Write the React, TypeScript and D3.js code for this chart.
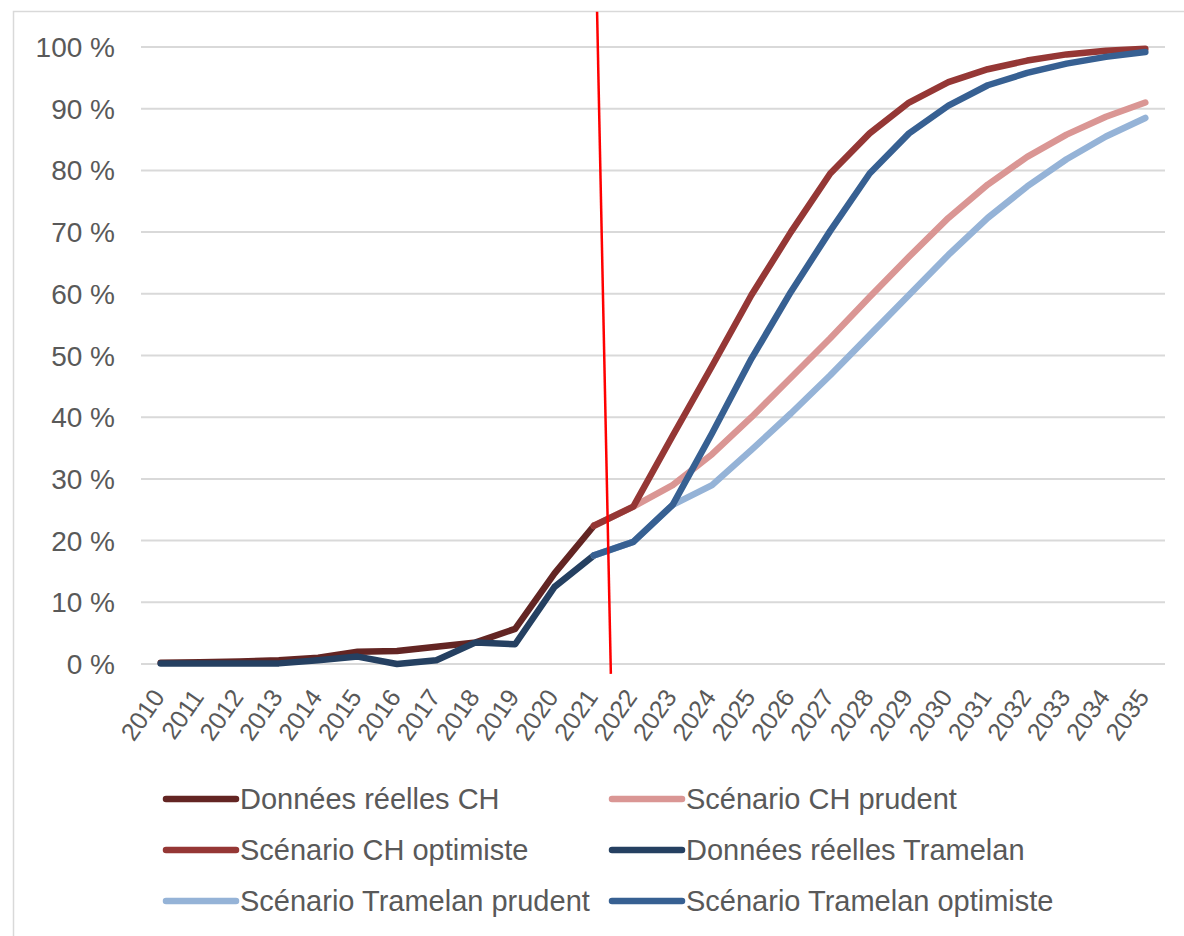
import React from "react";
import * as d3 from "d3";

const years = d3.range(2010, 2036);
const yTicks = [0, 10, 20, 30, 40, 50, 60, 70, 80, 90, 100];

// values in %, null = no value
const reelCH = [0.2, 0.3, 0.4, 0.6, 1.0, 2.0, 2.1, 2.8, 3.5, 5.7, 14.7, 22.4,
  null, null, null, null, null, null, null, null, null, null, null, null, null, null];
const prudentCH = [null, null, null, null, null, null, null, null, null, null, null, 22.4,
  25.5, 29.0, 34.0, 40.0, 46.4, 52.8, 59.5, 66.0, 72.3, 77.7, 82.2, 85.8, 88.7, 91.0];
const optimisteCH = [null, null, null, null, null, null, null, null, null, null, null, 22.4,
  25.5, 37.0, 48.3, 59.8, 70.0, 79.5, 86.0, 91.0, 94.3, 96.4, 97.8, 98.8, 99.4, 99.7];
const reelTramelan = [0.1, 0.1, 0.1, 0.1, 0.6, 1.2, 0.0, 0.6, 3.5, 3.2, 12.5, 17.6,
  null, null, null, null, null, null, null, null, null, null, null, null, null, null];
const prudentTramelan = [null, null, null, null, null, null, null, null, null, null, null, 17.6,
  19.8, 25.8, 29.0, 34.7, 40.6, 46.8, 53.3, 59.8, 66.3, 72.3, 77.4, 81.8, 85.5, 88.5];
const optimisteTramelan = [null, null, null, null, null, null, null, null, null, null, null, 17.6,
  19.8, 25.8, 37.4, 49.5, 60.3, 70.2, 79.5, 86.0, 90.5, 93.8, 95.8, 97.3, 98.4, 99.2];

const seriesNames = [
  "Données réelles CH",
  "Scénario CH prudent",
  "Scénario CH optimiste",
  "Données réelles Tramelan",
  "Scénario Tramelan prudent",
  "Scénario Tramelan optimiste",
];
const seriesColors = ["#632523", "#DA9694", "#953735", "#254061", "#95B3D7", "#376092"];
const seriesValues = [reelCH, prudentCH, optimisteCH, reelTramelan, prudentTramelan, optimisteTramelan];

// red separator line, in data coordinates (fractional year, %)
const markerStart = { year: 2021.08, value: 105.7 };
const markerEnd = { year: 2021.43, value: -1.6 };

const W = 1184;
const H = 936;
const FONT = "'Liberation Sans', Arial, sans-serif";
const TEXT = "#595959";

export default function App() {
  const x = d3.scaleBand<number>().domain(years).range([141, 1165]);
  const cx = (yr: number) => (x(yr) as number) + x.bandwidth() / 2;
  const xLin = d3.scaleLinear().domain([2010, 2035]).range([cx(2010), cx(2035)]);
  const y = d3.scaleLinear().domain([0, 100]).range([664, 47]);

  const line = d3
    .line<number | null>()
    .defined((d) => d !== null)
    .x((_, i) => cx(years[i]))
    .y((d) => y(d as number));

  const legendCols = [166, 612];
  const legendRows = [799, 850, 901];

  return (
    <div style={{ position: "absolute", left: 0, top: 0 }}>
      <svg width={W} height={H} style={{ display: "block", background: "#fff" }}>
        <rect x={13.5} y={11.5} width={1300} height={1000} fill="#fff" stroke="#d9d9d9" strokeWidth={1.5} />
        {yTicks.map((t) => (
          <g key={t}>
            <line x1={141} x2={1165} y1={y(t)} y2={y(t)} stroke="#d9d9d9" strokeWidth={2} />
            <text
              x={115}
              y={y(t)}
              dy="0.36em"
              textAnchor="end"
              fontFamily={FONT}
              fontSize={28}
              fill={TEXT}
            >
              {`${t} %`}
            </text>
          </g>
        ))}
        {years.map((yr) => (
          <text
            key={yr}
            transform={`translate(${cx(yr) + 5},${697}) rotate(-55)`}
            textAnchor="end"
            fontFamily={FONT}
            fontSize={25}
            fill={TEXT}
          >
            {yr}
          </text>
        ))}
        {seriesValues.map((vals, i) => (
          <path
            key={seriesNames[i]}
            d={line(vals) || ""}
            fill="none"
            stroke={seriesColors[i]}
            strokeWidth={6.5}
            strokeLinejoin="round"
            strokeLinecap="round"
          />
        ))}
        <line
          x1={xLin(markerStart.year)}
          y1={y(markerStart.value)}
          x2={xLin(markerEnd.year)}
          y2={y(markerEnd.value)}
          stroke="#ff0000"
          strokeWidth={2.5}
        />
        {seriesNames.map((name, i) => {
          const col = i % 2;
          const row = Math.floor(i / 2);
          const lx = legendCols[col];
          const ly = legendRows[row];
          return (
            <g key={name}>
              <line x1={lx} x2={lx + 70} y1={ly} y2={ly} stroke={seriesColors[i]} strokeWidth={6.5} strokeLinecap="round" />
              <text x={lx + 74} y={ly} dy="0.36em" fontFamily={FONT} fontSize={29} fill={TEXT}>
                {name}
              </text>
            </g>
          );
        })}
      </svg>
    </div>
  );
}
